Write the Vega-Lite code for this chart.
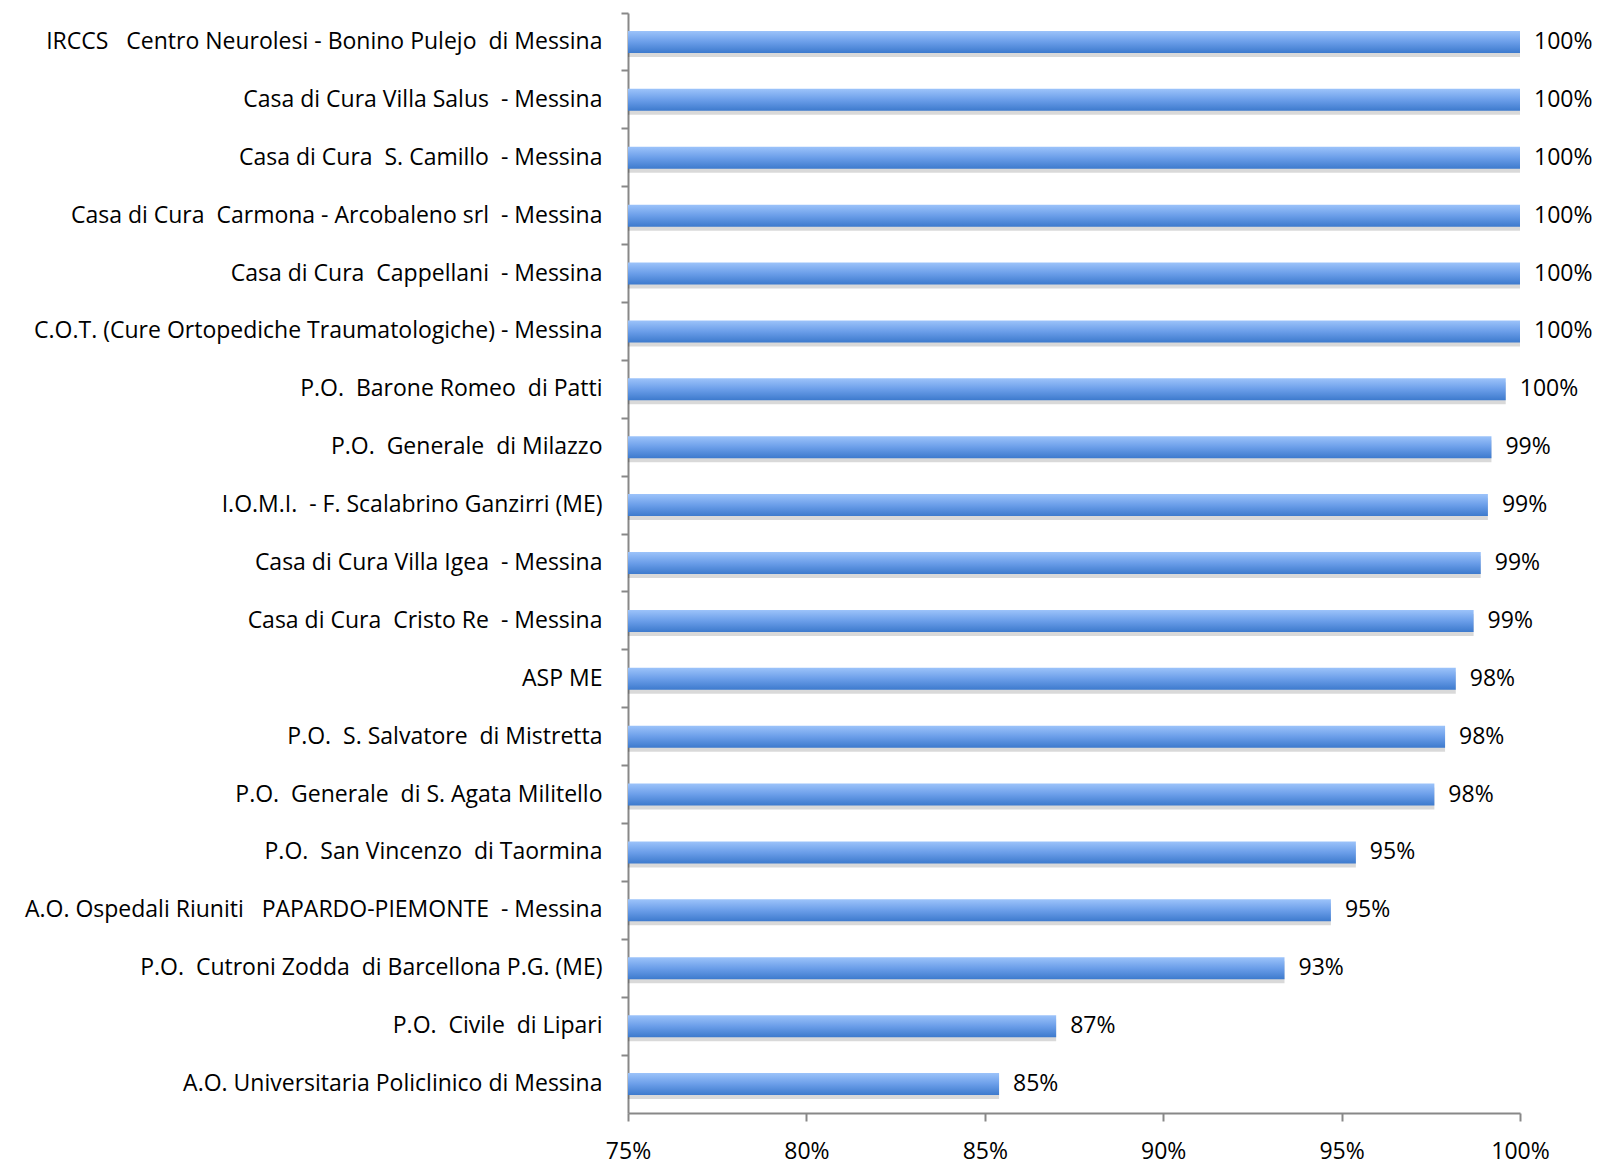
{
  "$schema": "https://vega.github.io/schema/vega-lite/v6.json",
  "width": 892,
  "height": 1100,
  "autosize": "none",
  "padding": {"left": 628, "top": 13, "right": 81, "bottom": 54},
  "background": "white",
  "config": {
    "view": {"stroke": null},
    "font": "Open Sans",
    "axis": {"labelFont": "Open Sans", "labelFontSize": 23, "labelColor": "#000000", "domainColor": "#888888", "tickColor": "#888888", "domainWidth": 2, "tickWidth": 2, "grid": false, "title": null}
  },
  "data": {
    "values": [
      {"name": "IRCCS\u00a0\u00a0 Centro Neurolesi - Bonino Pulejo\u00a0 di Messina", "v": 1.0},
      {"name": "Casa di Cura Villa Salus\u00a0 - Messina", "v": 1.0},
      {"name": "Casa di Cura\u00a0 S. Camillo\u00a0 - Messina", "v": 1.0},
      {"name": "Casa di Cura\u00a0 Carmona - Arcobaleno srl\u00a0 - Messina", "v": 1.0},
      {"name": "Casa di Cura\u00a0 Cappellani\u00a0 - Messina", "v": 1.0},
      {"name": "C.O.T. (Cure Ortopediche Traumatologiche) - Messina", "v": 1.0},
      {"name": "P.O.\u00a0 Barone Romeo\u00a0 di Patti", "v": 0.996},
      {"name": "P.O.\u00a0 Generale\u00a0 di Milazzo", "v": 0.992},
      {"name": "I.O.M.I.\u00a0 - F. Scalabrino Ganzirri (ME)", "v": 0.991},
      {"name": "Casa di Cura Villa Igea\u00a0 - Messina", "v": 0.989},
      {"name": "Casa di Cura\u00a0 Cristo Re\u00a0 - Messina", "v": 0.987},
      {"name": "ASP ME", "v": 0.982},
      {"name": "P.O.\u00a0 S. Salvatore\u00a0 di Mistretta", "v": 0.979},
      {"name": "P.O.\u00a0 Generale\u00a0 di S. Agata Militello", "v": 0.976},
      {"name": "P.O.\u00a0 San Vincenzo\u00a0 di Taormina", "v": 0.954},
      {"name": "A.O. Ospedali Riuniti\u00a0\u00a0 PAPARDO-PIEMONTE\u00a0 - Messina", "v": 0.947},
      {"name": "P.O.\u00a0 Cutroni Zodda\u00a0 di Barcellona P.G. (ME)", "v": 0.934},
      {"name": "P.O.\u00a0 Civile\u00a0 di Lipari", "v": 0.870},
      {"name": "A.O. Universitaria Policlinico di Messina", "v": 0.854}
    ]
  },
  "encoding": {
    "y": {
      "field": "name", "type": "nominal", "sort": null,
      "scale": {"paddingInner": 0, "paddingOuter": 0},
      "axis": {"bandPosition": 0, "tickSize": 7, "labelPadding": 19, "labelLimit": 700}
    }
  },
  "layer": [
    {
      "mark": {"type": "bar", "height": 22, "yOffset": 4, "color": "#000000", "opacity": 0.15},
      "encoding": {
        "x": {"field": "v", "type": "quantitative", "scale": {"domain": [0.75, 1], "zero": false, "nice": false},
          "axis": {"values": [0.75, 0.8, 0.85, 0.9, 0.95, 1.0], "format": ".0%", "tickSize": 8, "labelPadding": 19, "labelFlush": false}},
        "x2": {"datum": 0.75}
      }
    },
    {
      "mark": {"type": "bar", "height": 22, "color": {"gradient": "linear", "x1": 0, "y1": 0, "x2": 0, "y2": 1, "stops": [{"offset": 0, "color": "#9CC3FA"}, {"offset": 0.5, "color": "#6B9EE9"}, {"offset": 1, "color": "#3D7ACD"}]}},
      "encoding": {
        "x": {"field": "v", "type": "quantitative"},
        "x2": {"datum": 0.75}
      }
    },
    {
      "mark": {"type": "text", "align": "left", "baseline": "middle", "dx": 14, "fontSize": 23, "font": "Open Sans", "color": "#000000"},
      "encoding": {
        "x": {"field": "v", "type": "quantitative"},
        "text": {"field": "v", "type": "quantitative", "format": ".0%"}
      }
    }
  ]
}
